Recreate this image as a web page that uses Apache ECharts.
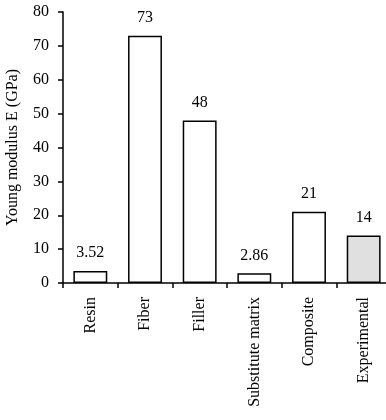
<!DOCTYPE html>
<html><head><meta charset="utf-8">
<script src="https://cdn.jsdelivr.net/npm/echarts@6/dist/echarts.min.js"></script>
<style>html,body{margin:0;padding:0;background:#fff;overflow:hidden}#c{width:386px;height:420px}</style>
</head><body><div id="c"></div>
<script>
var categories = ["Resin", "Fiber", "Filler", "Substitute matrix", "Composite", "Experimental"];
var values = [3.52, 73, 48, 2.86, 21, 14];
var valueLabels = ["3.52", "73", "48", "2.86", "21", "14"];
var fills = ["#ffffff", "#ffffff", "#ffffff", "#ffffff", "#ffffff", "#e0e0e0"];
var yTicks = [0, 10, 20, 30, 40, 50, 60, 70, 80];

var font = "'Liberation Serif', 'Times New Roman', serif";
var chart = echarts.init(document.getElementById('c'));
chart.setOption({
  animation: false,
  grid: {left: 63, top: 12, width: 328, height: 271, containLabel: false, outerBoundsMode: 'none'},
  xAxis: {
    type: 'category', data: categories,
    axisLine: {lineStyle: {color: '#000', width: 1.5}},
    axisTick: {show: true, length: 5, lineStyle: {color: '#000', width: 1.5}, alignWithLabel: false},
    axisLabel: {rotate: 90, color: '#000', fontFamily: font, fontSize: 16, margin: 14, interval: 0}
  },
  yAxis: {
    type: 'value', min: 0, max: 80, interval: 10,
    name: 'Young modulus E (GPa)', nameLocation: 'middle', nameGap: 42,
    nameTextStyle: {color: '#000', fontFamily: font, fontSize: 16},
    axisLine: {show: true, lineStyle: {color: '#000', width: 1.5}},
    axisTick: {show: true, length: 5, lineStyle: {color: '#000', width: 1.5}},
    splitLine: {show: false},
    axisLabel: {color: '#000', fontFamily: font, fontSize: 16, margin: 14,
      formatter: function (v) { return yTicks.indexOf(v) >= 0 ? String(v) : ''; }}
  },
  series: [{
    type: 'bar', barWidth: '62%',
    data: values.map(function (v, i) {
      return {value: v, itemStyle: {color: fills[i], borderColor: '#000', borderWidth: 1.5}};
    }),
    label: {show: true, position: 'top', distance: 10, color: '#000', fontFamily: font, fontSize: 16,
      formatter: function (p) { return valueLabels[p.dataIndex]; }}
  }]
});
</script></body></html>
